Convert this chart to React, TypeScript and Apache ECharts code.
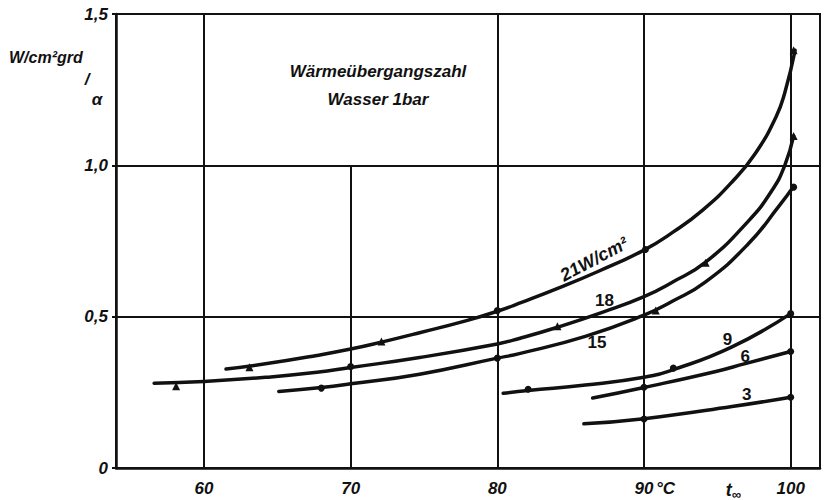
import React, { useEffect, useRef } from "react";
import * as echarts from "echarts";

// ---- data ----
const xTickValues = [60, 70, 80, 90, 100];
const gridXFull = [60, 80, 90, 100];
const gridXPartial = [70]; // drawn from 0 up to 1.0 only
const partialTop = 1.0;

const curve21: number[][] = [
  [61.5, 0.327], [64.3, 0.345], [67.7, 0.372], [70, 0.393], [72.1, 0.416], [74.7, 0.447],
  [77.9, 0.487], [80, 0.518], [81.7, 0.548], [84.2, 0.595], [86.9, 0.65], [90, 0.72],
  [92, 0.78], [94, 0.852], [96, 0.945], [97.6, 1.04], [99, 1.16], [99.6, 1.24], [100.3, 1.38],
];
const curve18: number[][] = [
  [56.6, 0.28], [60, 0.286], [64.3, 0.3], [67.7, 0.316], [70, 0.332], [74.7, 0.365],
  [80, 0.41], [81.5, 0.428], [84.1, 0.465], [87.2, 0.515], [90, 0.566], [91.9, 0.613],
  [94.2, 0.68], [97.1, 0.815], [98.7, 0.915], [99.6, 1.0], [100.2, 1.097],
];
const curve15: number[][] = [
  [65.1, 0.253], [68, 0.266], [70, 0.278], [74.7, 0.31], [80, 0.363], [81.5, 0.378],
  [86, 0.435], [90, 0.505], [91.9, 0.55], [94.2, 0.615], [97.1, 0.74], [99.2, 0.865], [100.2, 0.93],
];
const curve9: number[][] = [
  [80.4, 0.247], [82.1, 0.256], [86, 0.274], [90, 0.3], [92, 0.325], [96, 0.4], [100, 0.51],
];
const curve6: number[][] = [
  [86.5, 0.231], [90, 0.266], [94.9, 0.319], [96.9, 0.345], [100, 0.385],
];
const curve3: number[][] = [
  [85.9, 0.146], [90, 0.163], [96, 0.203], [100, 0.234],
];

const triangleMarkers: number[][] = [
  [63.1, 0.333], [72.1, 0.418], [100.2, 1.38],
  [58.1, 0.27], [84.1, 0.468], [94.2, 0.678], [100.2, 1.097],
  [90.8, 0.52],
];
const dotMarkers: number[][] = [
  [80, 0.52], [90.1, 0.722],
  [70, 0.335],
  [68, 0.264], [80, 0.363], [100.2, 0.928],
  [82.1, 0.26], [92, 0.33], [100, 0.51],
  [90, 0.267], [100, 0.385],
  [90, 0.162], [100, 0.234],
];

// curve labels: text, anchor (data coords), rotation in degrees
const curveLabelTexts = ["21W/cm²", "18", "15", "9", "6", "3"];
const curveLabelPos: number[][] = [
  [86.6, 0.69], [87.3, 0.553], [86.8, 0.414], [95.7, 0.424], [96.9, 0.369], [97.0, 0.242],
];
const curveLabelRot = [28, 0, 0, 0, 0, 0];

const titleLines = ["Wärmeübergangszahl", "Wasser 1bar"];
const yAxisName = "W/cm²grd";
const xUnit = "°C";
const xUnitAt = 90;
const xNameAt = 96.1;

const INK = "#111";
const FONT = '"Liberation Sans", Arial, sans-serif';

export default function App() {
  const ref = useRef<HTMLDivElement>(null);
  useEffect(() => {
    document.body.style.margin = "0";
    const chart = echarts.init(ref.current as HTMLDivElement, null, { renderer: "svg" });
    const curves = [curve21, curve18, curve15, curve9, curve6, curve3];
    const lineSeries = curves.map((c) => ({
      type: "line",
      data: c,
      showSymbol: false,
      smooth: 0.5,
      lineStyle: { color: INK, width: 3.5, cap: "round", join: "round" },
      z: 3,
      silent: true,
    }));
    const markLineData: any[] = [
      ...gridXFull.map((v) => ({ xAxis: v })),
      ...gridXPartial.map((v) => [{ coord: [v, 0] }, { coord: [v, partialTop] }]),
    ];
    chart.setOption({
      animation: false,
      grid: { left: 116, top: 14, width: 704, height: 454, show: true, borderColor: INK, borderWidth: 2 },
      xAxis: {
        type: "value",
        min: 54,
        max: 102,
        splitLine: { show: false },
        axisLine: { show: true, lineStyle: { color: INK, width: 2.5 } },
        axisTick: { show: false },
        axisLabel: {
          customValues: xTickValues,
          color: INK,
          fontFamily: FONT,
          fontStyle: "italic",
          fontWeight: "bold",
          fontSize: 17,
          margin: 12,
          formatter: (v: number) => String(v),
        },
      },
      yAxis: {
        type: "value",
        min: 0,
        max: 1.5,
        interval: 0.5,
        splitLine: { show: true, lineStyle: { color: INK, width: 2 } },
        axisLine: { show: true, lineStyle: { color: INK, width: 2.5 } },
        axisTick: { show: true, length: 4, lineStyle: { color: INK, width: 2 } },
        axisLabel: {
          color: INK,
          fontFamily: FONT,
          fontStyle: "italic",
          fontWeight: "bold",
          fontSize: 17,
          margin: 8,
          formatter: (v: number) => (v === 0 ? "0" : v.toFixed(1).replace(".", ",")),
        },
      },
      series: [
        ...lineSeries,
        {
          type: "scatter",
          data: triangleMarkers,
          symbol: "triangle",
          symbolSize: 8,
          itemStyle: { color: INK, opacity: 1 },
          z: 4,
          silent: true,
        },
        {
          type: "scatter",
          data: dotMarkers,
          symbol: "circle",
          symbolSize: 7,
          itemStyle: { color: INK, opacity: 1 },
          z: 4,
          silent: true,
          markLine: {
            silent: true,
            symbol: ["none", "none"],
            label: { show: false },
            lineStyle: { color: INK, width: 2, type: "solid" },
            data: markLineData,
            z: 1,
          },
        },
      ],
    });

    const px = (x: number, y: number) => chart.convertToPixel({ gridIndex: 0 }, [x, y]) as number[];
    const font = (size: number, italic = true) => `${italic ? "italic " : ""}bold ${size}px ${FONT}`;
    const graphics: any[] = [];
    titleLines.forEach((t, i) => {
      graphics.push({
        type: "text",
        x: 378,
        y: 71 + i * 28,
        style: { text: t, fill: INK, font: font(17), textAlign: "center", textVerticalAlign: "middle" },
      });
    });
    graphics.push({
      type: "text",
      x: 9,
      y: 57,
      style: { text: yAxisName, fill: INK, font: font(16), textAlign: "left", textVerticalAlign: "middle" },
    });
    graphics.push({
      type: "text",
      x: 87,
      y: 79,
      style: { text: "/", fill: INK, font: font(17), textAlign: "center", textVerticalAlign: "middle" },
    });
    graphics.push({
      type: "text",
      x: 97,
      y: 99,
      style: { text: "α", fill: INK, font: font(17), textAlign: "center", textVerticalAlign: "middle" },
    });
    const p90 = px(xUnitAt, 0);
    graphics.push({
      type: "text",
      x: p90[0] + 12,
      y: p90[1] + 20,
      style: { text: xUnit, fill: INK, font: font(17), textAlign: "left", textVerticalAlign: "middle" },
    });
    const pt = px(xNameAt, 0);
    graphics.push({
      type: "text",
      x: pt[0],
      y: pt[1] + 22,
      style: {
        text: "{t|t}{s|∞}",
        fill: INK,
        font: font(17),
        textAlign: "center",
        textVerticalAlign: "middle",
        rich: {
          t: { font: font(18), fill: INK },
          s: { font: font(13), fill: INK, padding: [8, 0, 0, 0] },
        },
      },
    });
    curveLabelTexts.forEach((t, i) => {
      const p = px(curveLabelPos[i][0], curveLabelPos[i][1]);
      graphics.push({
        type: "text",
        x: p[0],
        y: p[1],
        rotation: (curveLabelRot[i] * Math.PI) / 180,
        style: {
          text: t,
          fill: INK,
          font: font(i === 0 ? 18 : 17, i === 0),
          textAlign: "center",
          textVerticalAlign: "middle",
        },
      });
    });
    chart.setOption({ graphic: graphics });
    return () => chart.dispose();
  }, []);
  return <div ref={ref} style={{ width: 825, height: 500 }} />;
}
